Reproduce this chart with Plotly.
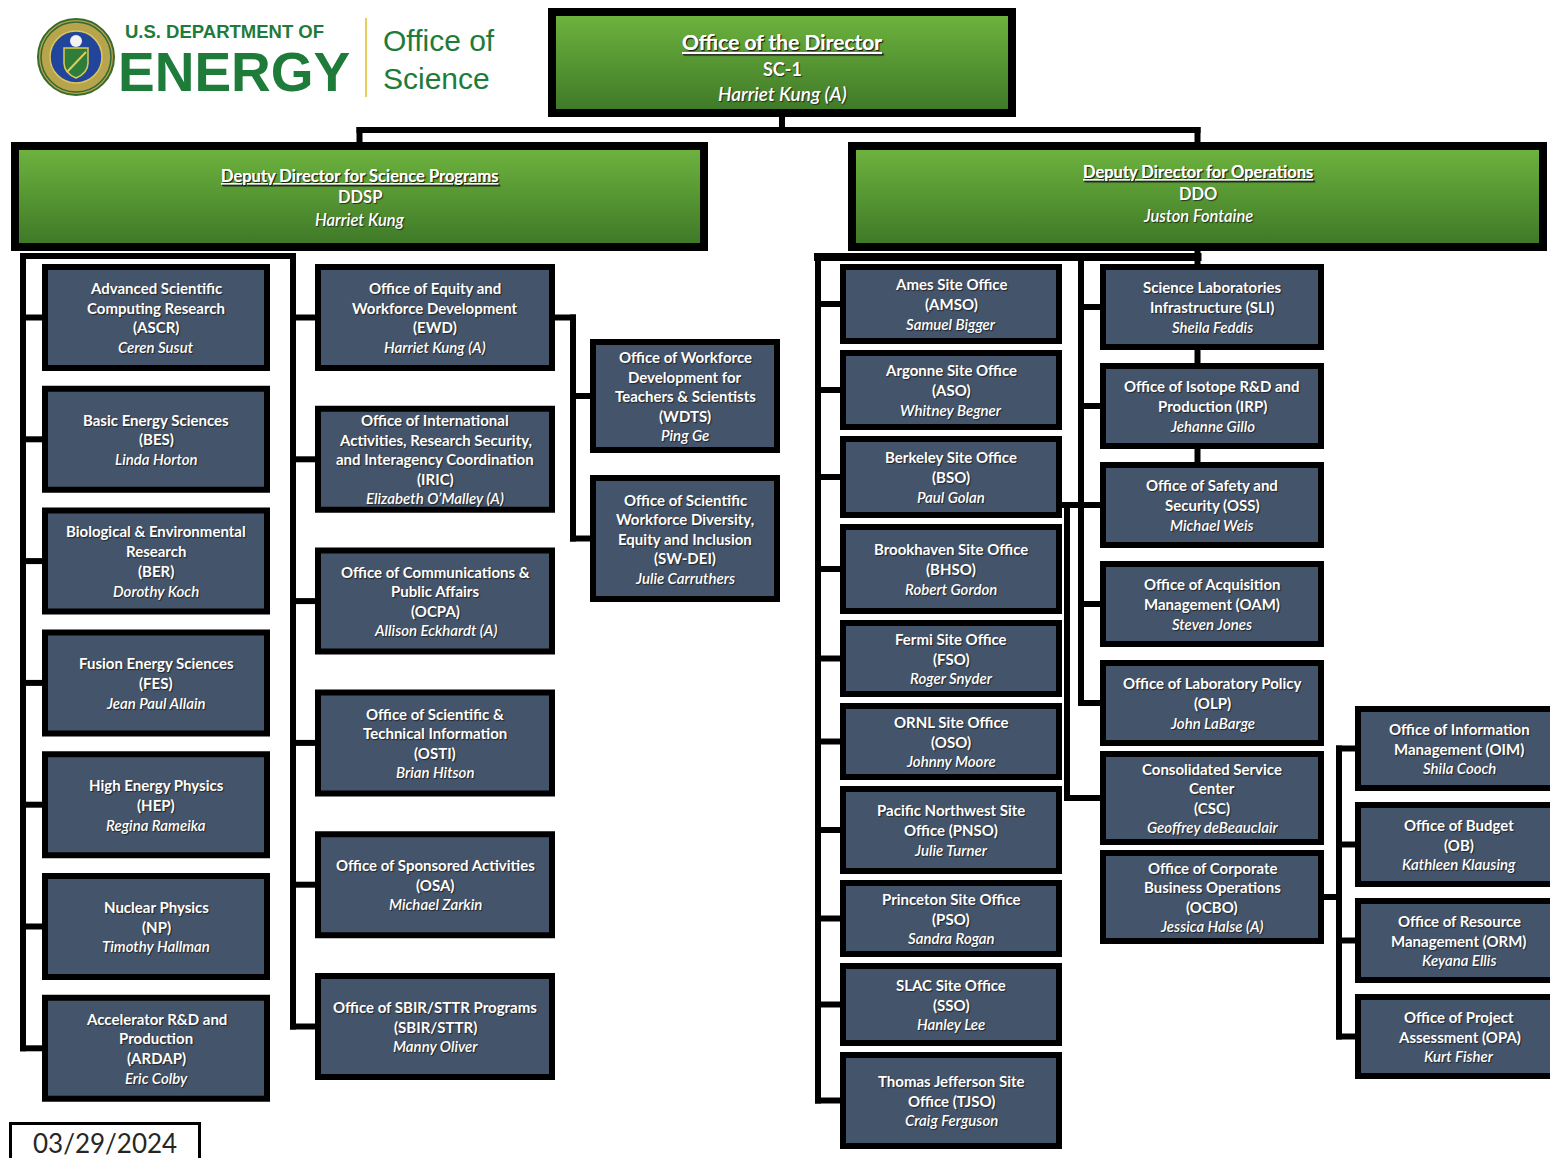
import plotly.graph_objects as go

W, H = 1550, 1158
FONT = "Lato"
BOX_FILL = "#44546a"
GREEN_TOP = "#6db23e"
GREEN_BOT = "#3f7a28"
LOGO_GREEN = "#1e7b3a"

# ---------------- data ----------------
director = ["Office of the Director", "SC-1", "Harriet Kung (A)"]
deputy_science = ["Deputy Director for Science Programs", "DDSP", "Harriet Kung"]
deputy_ops = ["Deputy Director for Operations", "DDO", "Juston Fontaine"]

program_offices = [
    "Advanced Scientific\nComputing Research\n(ASCR)",
    "Basic Energy Sciences\n(BES)",
    "Biological & Environmental\nResearch\n(BER)",
    "Fusion Energy Sciences\n(FES)",
    "High Energy Physics\n(HEP)",
    "Nuclear Physics\n(NP)",
    "Accelerator R&D and\nProduction\n(ARDAP)",
]
program_heads = ["Ceren Susut", "Linda Horton", "Dorothy Koch", "Jean Paul Allain",
                 "Regina Rameika", "Timothy Hallman", "Eric Colby"]

staff_offices = [
    "Office of Equity and\nWorkforce Development\n(EWD)",
    "Office of International\nActivities, Research Security,\nand Interagency Coordination\n(IRIC)",
    "Office of Communications &\nPublic Affairs\n(OCPA)",
    "Office of Scientific &\nTechnical Information\n(OSTI)",
    "Office of Sponsored Activities\n(OSA)",
    "Office of SBIR/STTR Programs\n(SBIR/STTR)",
]
staff_heads = ["Harriet Kung (A)", "Elizabeth O\u2019Malley (A)", "Allison Eckhardt (A)",
               "Brian Hitson", "Michael Zarkin", "Manny Oliver"]

ewd_offices = [
    "Office of Workforce\nDevelopment for\nTeachers & Scientists\n(WDTS)",
    "Office of Scientific\nWorkforce Diversity,\nEquity and Inclusion\n(SW-DEI)",
]
ewd_heads = ["Ping Ge", "Julie Carruthers"]

site_offices = [
    "Ames Site Office\n(AMSO)",
    "Argonne Site Office\n(ASO)",
    "Berkeley Site Office\n(BSO)",
    "Brookhaven Site Office\n(BHSO)",
    "Fermi Site Office\n(FSO)",
    "ORNL Site Office\n(OSO)",
    "Pacific Northwest Site\nOffice (PNSO)",
    "Princeton Site Office\n(PSO)",
    "SLAC Site Office\n(SSO)",
    "Thomas Jefferson Site\nOffice (TJSO)",
]
site_heads = ["Samuel Bigger", "Whitney Begner", "Paul Golan", "Robert Gordon", "Roger Snyder",
              "Johnny Moore", "Julie Turner", "Sandra Rogan", "Hanley Lee", "Craig Ferguson"]

ops_offices = [
    "Science Laboratories\nInfrastructure (SLI)",
    "Office of Isotope R&D and\nProduction (IRP)",
    "Office of Safety and\nSecurity (OSS)",
    "Office of Acquisition\nManagement (OAM)",
    "Office of Laboratory Policy\n(OLP)",
    "Consolidated Service\nCenter\n(CSC)",
    "Office of Corporate\nBusiness Operations\n(OCBO)",
]
ops_heads = ["Sheila Feddis", "Jehanne Gillo", "Michael Weis", "Steven Jones", "John LaBarge",
             "Geoffrey deBeauclair", "Jessica Halse (A)"]

ocbo_offices = [
    "Office of Information\nManagement (OIM)",
    "Office of Budget\n(OB)",
    "Office of Resource\nManagement (ORM)",
    "Office of Project\nAssessment (OPA)",
]
ocbo_heads = ["Shila Cooch", "Kathleen Klausing", "Keyana Ellis", "Kurt Fisher"]

date_label = "03/29/2024"
logo_lines = ["U.S. DEPARTMENT OF", "ENERGY", "Office of", "Science"]

# ---------------- layout geometry ----------------
def stack(top, heights, gaps):
    tops = []
    y = top
    for i, h in enumerate(heights):
        tops.append(y)
        y += h + (gaps[i] if i < len(gaps) else 0)
    return tops

colA = dict(x0=42, x1=270, heights=[107] * 7, gaps=[14.8] * 6, top=264)
colB = dict(x0=315, x1=555, heights=[107] * 6, gaps=[34.8] * 5, top=264)
colC = dict(x0=590, x1=780, heights=[114, 127], gaps=[22], top=339)
colD = dict(x0=840, x1=1062, heights=[80, 80, 82, 90, 77, 77, 88, 77, 83, 97], gaps=[6] * 9, top=264)
colE = dict(x0=1100, x1=1324, heights=[86, 86, 86, 86, 86, 94, 94], gaps=[13, 13, 13, 13, 5, 5], top=264)
colF = dict(x0=1355, x1=1563, heights=[85] * 4, gaps=[11] * 3, top=706)

for c in (colA, colB, colC, colD, colE, colF):
    c["tops"] = stack(c["top"], c["heights"], c["gaps"])
    c["centers"] = [t + h / 2 for t, h in zip(c["tops"], c["heights"])]
    c["cx"] = (c["x0"] + c["x1"]) / 2

shapes = []
annotations = []
traces = []
T = 6  # connector thickness


def rect(x0, y0, x1, y1, fill):
    shapes.append(dict(type="rect", xref="x", yref="y", x0=x0, y0=y0, x1=x1, y1=y1,
                       fillcolor=fill, line=dict(width=0), layer="below"))


def hbar(x0, x1, y, t=T):
    rect(x0 - t / 2, y - t / 2, x1 + t / 2, y + t / 2, "black")


def vbar(x, y0, y1, t=T):
    rect(x - t / 2, y0 - t / 2, x + t / 2, y1 + t / 2, "black")


def text(x, y, s, size, color="white", family=FONT, xanchor="center", shadow=True,
         weight=None, style=None):
    f = dict(family=family, size=size, color=color)
    if shadow:
        f["shadow"] = "1px 1px 1px rgba(15,15,15,0.7)"
    if weight is not None:
        f["weight"] = weight
    if style is not None:
        f["style"] = style
    annotations.append(dict(x=x, y=y, xref="x", yref="y", text=s, showarrow=False,
                            xanchor=xanchor, yanchor="middle", font=f))


def blue_box(x0, y0, x1, y1, name, head, b=6, lh=19.8, size=15):
    rect(x0, y0, x1, y1, "black")
    rect(x0 + b, y0 + b, x1 - b, y1 - b, BOX_FILL)
    lines = [(s, 700, "normal") for s in name.split("\n")] + [(head, 600, "italic")]
    n = len(lines)
    cy = (y0 + y1) / 2
    cx = (x0 + x1) / 2
    for i, (s, w, st) in enumerate(lines):
        text(cx, cy + (i - (n - 1) / 2) * lh, s, size, weight=w, style=st)


def green_box(x0, y0, x1, y1, lines, sizes, ys, b=8):
    rect(x0, y0, x1, y1, "black")
    traces.append(go.Scatter(
        x=[x0 + b, x1 - b, x1 - b, x0 + b, x0 + b],
        y=[y0 + b, y0 + b, y1 - b, y1 - b, y0 + b],
        mode="lines", line=dict(width=0), fill="toself",
        fillgradient=dict(type="vertical", start=y0 + b, stop=y1 - b,
                          colorscale=[[0, GREEN_TOP], [1, GREEN_BOT]]),
        hoverinfo="skip", showlegend=False))
    cx = (x0 + x1) / 2
    fmt = [("<u>%s</u>", 700, "normal"), ("%s", 700, "normal"), ("%s", 600, "italic")]
    for s, sz, y, (f, w, st) in zip(lines, sizes, ys, fmt):
        text(cx, y, f % s, sz, weight=w, style=st)


def column(col, names, heads, **kw):
    for t, h, nm, hd in zip(col["tops"], col["heights"], names, heads):
        blue_box(col["x0"], t, col["x1"], t + h, nm, hd, **kw)


# ---------------- connectors ----------------
DIR = dict(x0=548, y0=8, x1=1016, y1=117)
DDSP = dict(x0=11, y0=142, x1=708, y1=251)
DDO = dict(x0=848, y0=142, x1=1547, y1=251)
dir_cx = (DIR["x0"] + DIR["x1"]) / 2
ddsp_cx = (DDSP["x0"] + DDSP["x1"]) / 2
ddo_cx = (DDO["x0"] + DDO["x1"]) / 2

vbar(dir_cx, 117, 130)
hbar(ddsp_cx, ddo_cx, 130)
vbar(ddsp_cx, 130, 142)
vbar(ddo_cx, 130, 142)

busA, busB = 23, 293
hbar(busA, busB, 256)
vbar(busA, 256, colA["centers"][-1])
for cy in colA["centers"]:
    hbar(busA, colA["x0"], cy)
vbar(busB, 256, colB["centers"][-1])
for cy in colB["centers"]:
    hbar(busB, colB["x0"], cy)
busC = 573
hbar(colB["x1"], busC, colB["centers"][0])
vbar(busC, colB["centers"][0], colC["centers"][-1])
for cy in colC["centers"]:
    hbar(busC, colC["x0"], cy)

busD, busE = 818, 1081
hbar(busD, ddo_cx, 257, t=8)
vbar(ddo_cx, 251, colE["tops"][2] + 5)
vbar(busD, 257, colD["centers"][-1])
for cy in colD["centers"]:
    hbar(busD, colD["x0"], cy)
vbar(busE, 257, colE["centers"][4])
for cy in colE["centers"][:5]:
    hbar(busE, colE["x0"], cy)
busDE = 1067
hbar(colD["x1"], busE, colE["centers"][2])
vbar(busDE, colE["centers"][2], colE["centers"][5])
hbar(busDE, colE["x0"], colE["centers"][5])
busF = 1339
hbar(colE["x1"], busF, colE["centers"][6])
vbar(busF, colF["centers"][0], colF["centers"][-1])
for cy in colF["centers"]:
    hbar(busF, colF["x0"], cy)

# ---------------- boxes ----------------
green_box(DIR["x0"], DIR["y0"], DIR["x1"], DIR["y1"], director, [21, 18, 19], [41, 69, 93])
green_box(DDSP["x0"], DDSP["y0"], DDSP["x1"], DDSP["y1"], deputy_science, [16.5, 16.5, 16.5], [176, 197, 220])
green_box(DDO["x0"], DDO["y0"], DDO["x1"], DDO["y1"], deputy_ops, [16.5, 16.5, 16.5], [172, 194, 216])

column(colA, program_offices, program_heads)
column(colB, staff_offices, staff_heads, lh=19.5)
column(colC, ewd_offices, ewd_heads, lh=19.5)
column(colD, site_offices, site_heads)
column(colE, ops_offices, ops_heads, lh=19.6)
column(colF, ocbo_offices, ocbo_heads)

# ---------------- logo ----------------
shapes.append(dict(type="circle", xref="x", yref="y", x0=38, y0=19, x1=114, y1=95,
                   fillcolor="#b7a44c", line=dict(color="#3b6a2a", width=2), layer="below"))
shapes.append(dict(type="circle", xref="x", yref="y", x0=41, y0=22, x1=111, y1=92,
                   fillcolor="rgba(0,0,0,0)", line=dict(color="#2e6a36", width=1.5), layer="below"))
shapes.append(dict(type="circle", xref="x", yref="y", x0=50, y0=31, x1=102, y1=83,
                   fillcolor="#21459a", line=dict(color="#d9c661", width=1.5), layer="below"))
shapes.append(dict(type="path", xref="x", yref="y",
                   path="M 64 48 L 88 48 L 88 63 Q 88 73 76 78 Q 64 73 64 63 Z",
                   fillcolor="#2f7d3b", line=dict(color="#e0c950", width=1.5), layer="below"))
shapes.append(dict(type="circle", xref="x", yref="y", x0=70, y0=35, x1=82, y1=47,
                   fillcolor="#f2f2f2", line=dict(width=0), layer="below"))
shapes.append(dict(type="line", xref="x", yref="y", x0=67, y0=72, x1=86, y1=52,
                   line=dict(color="#e3cd55", width=2), layer="below"))
shapes.append(dict(type="line", xref="x", yref="y", x0=366, y0=18, x1=366, y1=97,
                   line=dict(color="#e6cf5c", width=2), layer="below"))

text(224, 31, "<b>%s</b>" % logo_lines[0], 18.5, color=LOGO_GREEN, family="Liberation Sans", shadow=False)
text(234, 72, "<b>%s</b>" % logo_lines[1], 55, color=LOGO_GREEN, family="Liberation Sans", shadow=False)
text(381, 40, logo_lines[2], 30, color=LOGO_GREEN, family="Liberation Sans", xanchor="left", shadow=False)
text(381, 78, logo_lines[3], 30, color=LOGO_GREEN, family="Liberation Sans", xanchor="left", shadow=False)

# ---------------- date ----------------
rect(9, 1122, 201, 1170, "black")
rect(12, 1125, 198, 1167, "white")
text(105, 1143, date_label, 26, color="#262626", shadow=False)

fig = go.Figure(data=traces)
fig.update_layout(
    width=W, height=H,
    margin=dict(l=0, r=0, t=0, b=0),
    paper_bgcolor="white", plot_bgcolor="white",
    xaxis=dict(range=[0, W], visible=False, fixedrange=True),
    yaxis=dict(range=[H, 0], visible=False, fixedrange=True),
    shapes=shapes, annotations=annotations, showlegend=False,
)
fig.write_html("out.html", config={"displayModeBar": False},
               post_script="document.body.style.margin='0';")
